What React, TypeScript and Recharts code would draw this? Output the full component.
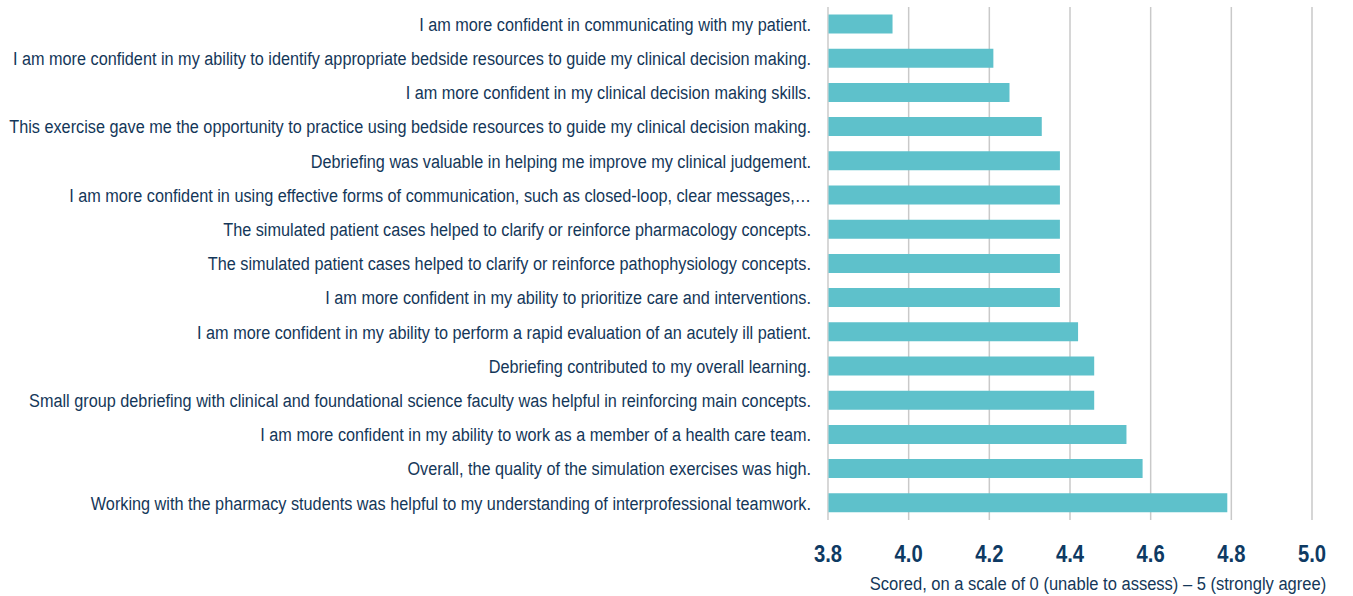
import React from "react";
import { BarChart, Bar, XAxis, YAxis, CartesianGrid } from "recharts";

const statements: string[] = [
  "I am more confident in communicating with my patient.",
  "I am more confident in my ability to identify appropriate bedside resources to guide my clinical decision making.",
  "I am more confident in my clinical decision making skills.",
  "This exercise gave me the opportunity to practice using bedside resources to guide my clinical decision making.",
  "Debriefing was valuable in helping me improve my clinical judgement.",
  "I am more confident in using effective forms of communication, such as closed-loop, clear messages,…",
  "The simulated patient cases helped to clarify or reinforce pharmacology concepts.",
  "The simulated patient cases helped to clarify or reinforce pathophysiology concepts.",
  "I am more confident in my ability to prioritize care and interventions.",
  "I am more confident in my ability to perform a rapid evaluation of an acutely ill patient.",
  "Debriefing contributed to my overall learning.",
  "Small group debriefing with clinical and foundational science faculty was helpful in reinforcing main concepts.",
  "I am more confident in my ability to work as a member of a health care team.",
  "Overall, the quality of the simulation exercises was high.",
  "Working with the pharmacy students was helpful to my understanding of interprofessional teamwork.",
];

const scores: number[] = [
  3.96, 4.21, 4.25, 4.33, 4.375, 4.375, 4.375, 4.375, 4.375, 4.42, 4.46, 4.46, 4.54, 4.58, 4.79,
];

const xTicks: number[] = [3.8, 4.0, 4.2, 4.4, 4.6, 4.8, 5.0];

const axisTitle = "Scored, on a scale of 0 (unable to assess) – 5 (strongly agree)";

const data = statements.map((s, i) => ({ statement: s, score: scores[i] }));

const NAVY = "#143759";
const FONT = "'Liberation Sans', Arial, Helvetica, sans-serif";

const YTick = (props: any) => {
  const { x, y, payload } = props;
  return (
    <text
      transform={`translate(${x},${y}) scale(0.874,1)`}
      textAnchor="end"
      dy="0.355em"
      fill={NAVY}
      fontSize={18.6}
      fontFamily={FONT}
    >
      {payload.value}
    </text>
  );
};

const XTick = (props: any) => {
  const { x, y, payload } = props;
  return (
    <text
      transform={`translate(${x},${y}) scale(0.88,1)`}
      textAnchor="middle"
      dy="0.72em"
      fill="#0e3a63"
      fontSize={23}
      fontWeight={700}
      fontFamily={FONT}
    >
      {Number(payload.value).toFixed(1)}
    </text>
  );
};

const AxisTitle = (props: any) => {
  const vb = props.viewBox || {};
  const cx = vb.x + vb.width / 2 + 28;
  const by = vb.y + vb.height - 6;
  return (
    <text
      transform={`translate(${cx},${by}) scale(0.87,1)`}
      textAnchor="middle"
      fill={NAVY}
      fontSize={19}
      fontFamily={FONT}
    >
      {axisTitle}
    </text>
  );
};

export default function App() {
  return (
    <div style={{ position: "absolute", left: 0, top: 0, width: 1353, height: 596, background: "#fff" }}>
      <BarChart
        width={1353}
        height={596}
        data={data}
        layout="vertical"
        margin={{ top: 7, right: 41, bottom: 0, left: 0 }}
        barCategoryGap="22%"
      >
        <CartesianGrid horizontal={false} vertical={true} stroke="#c9c9c9" strokeWidth={1.5} />
        <XAxis
          type="number"
          domain={[3.8, 5.0]}
          ticks={xTicks}
          height={76}
          axisLine={false}
          tickLine={false}
          tickMargin={19}
          tick={<XTick />}
          interval={0}
          allowDataOverflow
          label={<AxisTitle />}
        />
        <YAxis
          type="category"
          dataKey="statement"
          width={828}
          axisLine={{ stroke: "#d9d9d9", strokeWidth: 1 }}
          tickLine={false}
          tickMargin={11}
          interval={0}
          tick={<YTick />}
        />
        <Bar dataKey="score" fill="#5ec1cb" isAnimationActive={false} />
      </BarChart>
    </div>
  );
}
